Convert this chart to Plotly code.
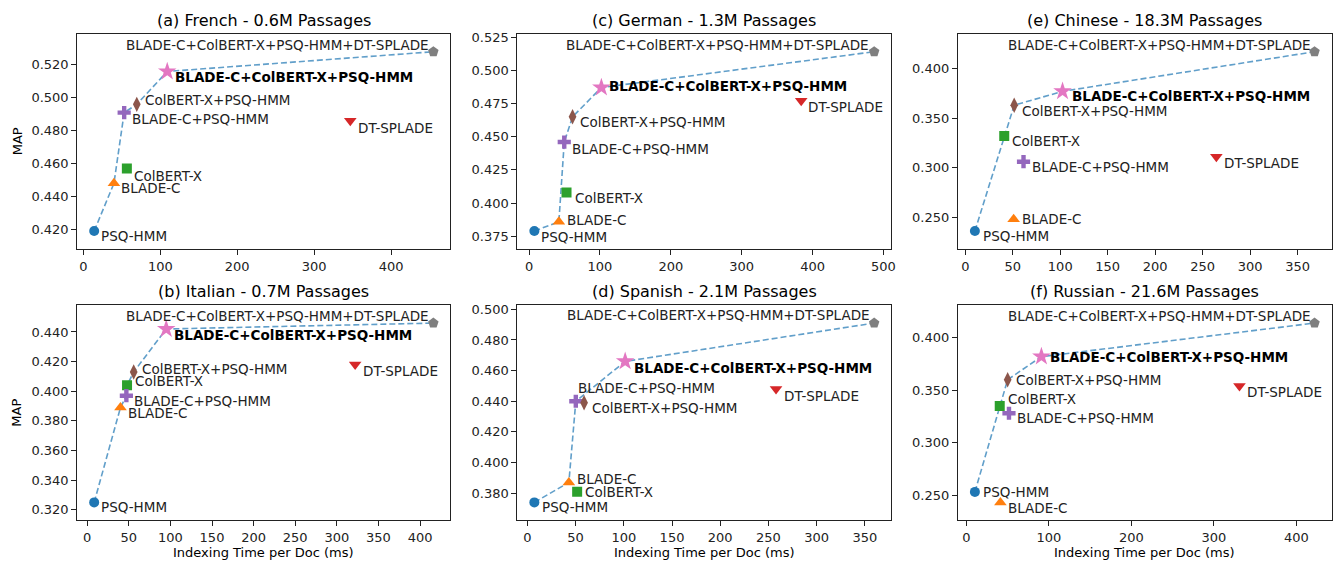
import plotly.graph_objects as go

# ---------------- data ----------------
methods = ["PSQ-HMM", "BLADE-C", "ColBERT-X", "DT-SPLADE", "BLADE-C+PSQ-HMM",
           "ColBERT-X+PSQ-HMM", "BLADE-C+ColBERT-X+PSQ-HMM",
           "BLADE-C+ColBERT-X+PSQ-HMM+DT-SPLADE"]

french_time = [14, 39.7, 56.5, 347, 53, 69.4, 109, 455]
french_map = [0.419, 0.448, 0.457, 0.486, 0.491, 0.496, 0.516, 0.528]

german_time = [7.4, 42, 52.8, 384, 49.6, 61.3, 102, 487]
german_map = [0.379, 0.386, 0.408, 0.477, 0.446, 0.465, 0.487, 0.514]

chinese_time = [10.1, 50.9, 41, 264.4, 61.3, 51.5, 102.4, 367.8]
chinese_map = [0.236, 0.248, 0.332, 0.311, 0.306, 0.363, 0.377, 0.417]

italian_time = [8.4, 40, 47.9, 322, 47.1, 55.9, 95, 416]
italian_map = [0.325, 0.389, 0.404, 0.418, 0.397, 0.413, 0.442, 0.446]

spanish_time = [7.2, 43, 51.6, 257.9, 50.2, 58.8, 101.4, 359.7]
spanish_map = [0.374, 0.387, 0.381, 0.448, 0.440, 0.439, 0.466, 0.491]

russian_time = [10.4, 41.3, 40.5, 331, 51.7, 50.1, 91, 422]
russian_map = [0.253, 0.243, 0.335, 0.354, 0.328, 0.360, 0.382, 0.414]

titles = ["(a) French - 0.6M Passages", "(c) German - 1.3M Passages",
          "(e) Chinese - 18.3M Passages", "(b) Italian - 0.7M Passages",
          "(d) Spanish - 2.1M Passages", "(f) Russian - 21.6M Passages"]
times = [french_time, german_time, chinese_time, italian_time, spanish_time, russian_time]
maps = [french_map, german_map, chinese_map, italian_map, spanish_map, russian_map]

# ---------------- style ----------------
W, H = 1342, 565
col_px = [(77.5, 452), (519.3, 894.5), (961.5, 1336.5)]
row_px = [(30, 246.7), (303.3, 520)]
grid = [(0, 0), (0, 1), (0, 2), (1, 0), (1, 1), (1, 2)]
x_dtick = [100, 100, 50, 50, 50, 100]
y_dtick = [0.02, 0.025, 0.05, 0.02, 0.02, 0.05]

colors = ["#1f77b4", "#ff7f0e", "#2ca02c", "#d62728", "#9467bd", "#8c564b", "#e377c2", "#7f7f7f"]
symbols = ["circle", "triangle-up", "square", "triangle-down", "cross", "diamond-tall", "star", "pentagon"]
sizes = [10, 11, 10, 11, 11, 11, 14, 11]

# label offsets (dx right, dy down) in pixels per panel, in methods order
offsets = [
    [(6, 5), (6, 5), (6, 7), (7, 7), (7, 6), (7, -4), (7, 6), (-3, -7)],
    [(6, 6), (7, -2), (7, 5), (6, 6), (7, 7), (6, 5), (7, -2), (-4, -7)],
    [(7, 5), (7, 0), (7, 5), (7, 6), (7, 5), (7, 6), (8, 5), (-3, -7)],
    [(6, 5), (7, 5), (7, -4), (7, 6), (7, 5), (7, -3), (7, 6), (-3, -7)],
    [(7, 5), (7, -3), (7, 0), (7, 7), (1, -13), (7, 5), (8, 7), (-3, -8)],
    [(7, 0), (7, 6), (7, -7), (7, 6), (7, 5), (7, 0), (8, 0), (-3, -7)],
]

FONT = "DejaVu Sans"
TXT = "#222222"
LABEL_SIZE = 13.5
TICK_SIZE = 13
TITLE_SIZE = 16


def frontier(t, m):
    order = sorted(range(len(t)), key=lambda i: t[i])
    xs, ys, best = [], [], -1.0
    for i in order:
        if m[i] > best:
            xs.append(t[i])
            ys.append(m[i])
            best = m[i]
    return xs, ys


fig = go.Figure()
layout = dict(width=W, height=H, margin=dict(l=0, r=0, t=0, b=0),
              plot_bgcolor="white", paper_bgcolor="white", showlegend=False,
              font=dict(family=FONT, color=TXT))
annotations = []

for p in range(6):
    r, c = grid[p]
    n = p + 1
    xs_name = "x" if n == 1 else f"x{n}"
    ys_name = "y" if n == 1 else f"y{n}"
    t, m = times[p], maps[p]

    fx, fy = frontier(t, m)
    fig.add_trace(go.Scatter(x=fx, y=fy, mode="lines", xaxis=xs_name, yaxis=ys_name,
                             line=dict(color="#1f77b4", width=1.6, dash="6px,3px"),
                             opacity=0.7, hoverinfo="skip"))
    for i in range(len(methods)):
        fig.add_trace(go.Scatter(x=[t[i]], y=[m[i]], mode="markers", xaxis=xs_name, yaxis=ys_name,
                                 marker=dict(color=colors[i], symbol=symbols[i], size=sizes[i],
                                             line=dict(width=0)),
                                 name=methods[i]))
        dx, dy = offsets[p][i]
        bold = methods[i] == "BLADE-C+ColBERT-X+PSQ-HMM"
        annotations.append(dict(
            x=t[i], y=m[i], xref=xs_name, yref=ys_name,
            text=f"<b>{methods[i]}</b>" if bold else methods[i],
            showarrow=False, xanchor="right" if dx < 0 else "left", yanchor="middle",
            xshift=dx, yshift=-dy, borderpad=0,
            font=dict(size=LABEL_SIZE, family=FONT, color="#000000" if bold else TXT)))

    xr = max(t) - min(t)
    yr = max(m) - min(m)
    x0, x1 = col_px[c]
    y0, y1 = row_px[r]
    axis_common = dict(showline=True, linecolor="#222222", linewidth=1, mirror=True,
                       showgrid=False, zeroline=False, ticks="outside", ticklen=5,
                       tickwidth=1, tickcolor="#222222",
                       tickfont=dict(size=TICK_SIZE, family=FONT, color=TXT))
    layout["xaxis" if n == 1 else f"xaxis{n}"] = dict(
        domain=[x0 / W, x1 / W], anchor=ys_name,
        range=[min(t) - 0.05 * xr, max(t) + 0.05 * xr], tick0=0, dtick=x_dtick[p],
        **axis_common)
    layout["yaxis" if n == 1 else f"yaxis{n}"] = dict(
        domain=[1 - y1 / H, 1 - y0 / H], anchor=xs_name,
        range=[min(m) - 0.1 * yr, max(m) + 0.1 * yr], tick0=0, dtick=y_dtick[p],
        tickformat=".3f", **axis_common)

    annotations.append(dict(x=(x0 + x1) / 2 / W, y=1 - (y0 - 13.5) / H, xref="paper", yref="paper",
                            text=titles[p], showarrow=False, xanchor="center", yanchor="middle",
                            font=dict(size=TITLE_SIZE, family=FONT, color="#000000")))
    if c == 0:
        annotations.append(dict(x=17 / W, y=1 - (y0 + y1) / 2 / H, xref="paper", yref="paper",
                                text="MAP", textangle=-90, showarrow=False,
                                xanchor="center", yanchor="middle",
                                font=dict(size=TICK_SIZE, family=FONT, color="#000000")))
    if r == 1:
        annotations.append(dict(x=(x0 + x1) / 2 / W, y=1 - 552 / H, xref="paper", yref="paper",
                                text="Indexing Time per Doc (ms)", showarrow=False,
                                xanchor="center", yanchor="middle",
                                font=dict(size=TICK_SIZE, family=FONT, color="#000000")))

layout["annotations"] = annotations
fig.update_layout(**layout)
fig.write_html("out.html", config={"displayModeBar": False},
               post_script="document.body.style.margin='0';document.body.style.overflow='hidden';")
